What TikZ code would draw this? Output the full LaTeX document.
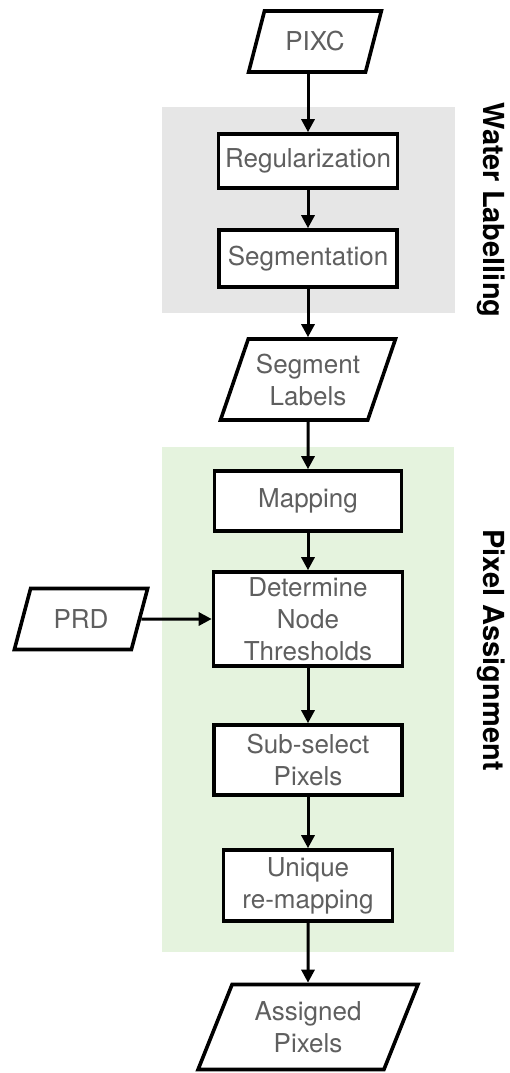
\documentclass[tikz,border=0pt]{standalone}
\usepackage{fontspec}
\setmainfont{TeX Gyre Heros}
\usepackage{tikz}
\usetikzlibrary{shapes.geometric,arrows.meta}
\definecolor{txtgray}{RGB}{95,95,95}
\definecolor{labelbg}{RGB}{230,230,230}
\definecolor{assignbg}{RGB}{229,243,222}

\begin{document}
\begin{tikzpicture}[x=1pt, y=-1pt, line width=3pt, >={Triangle[length=13pt,width=13pt]},
    main/.style = {draw, rectangle, line width=3.6pt, fill=white, text=txtgray, align=center, inner sep=0pt, font=\fontsize{26}{32}\selectfont},
    data/.style = {main, trapezium, trapezium left angle=65, trapezium right angle=115, trapezium stretches=true},
    group/.style = {rotate=-90, font=\bfseries\fontsize{29}{32}\selectfont}]

        \useasboundingbox (0,0) rectangle (509,1073);

        % shaded stages
        \fill[labelbg] (162,107) rectangle (455,313);
        \fill[assignbg] (162,447) rectangle (454,952);

        \node[data, minimum width=133pt, minimum height=61pt] (1) at (315,41.5) {PIXC};
        \node[main, minimum width=179pt, minimum height=54pt] (2) at (308,161) {Regularization};
        \node[main, minimum width=178pt, minimum height=57pt] (3) at (308,258.5) {Segmentation};
        \node[data, minimum width=175pt, minimum height=81pt] (4) at (308,379.5) {Segment\\Labels};
        \node[main, minimum width=187pt, minimum height=60pt] (5) at (308,501) {Mapping};
        \node[main, minimum width=189pt, minimum height=94pt] (6) at (308,619) {Determine\\Node\\Thresholds};
        \node[data, minimum width=134pt, minimum height=61pt] (7) at (81,619) {PRD};
        \node[main, minimum width=188pt, minimum height=70pt] (8) at (308,760) {Sub-select\\Pixels};
        \node[main, minimum width=169pt, minimum height=71pt] (9) at (308,885.5) {Unique\\re-mapping};
        \node[data, minimum width=220pt, minimum height=85pt] (10) at (308,1027) {Assigned\\Pixels};

        \node[group] (11) at (491,210) {Water Labelling};
        \node[group] (12) at (491,650) {Pixel Assignment};

        \draw[->] (1.south -| 2) -- (2);
        \draw[->] (2) -- (3);
        \draw[->] (3) -- (4);
        \draw[->] (4) -- (5);
        \draw[->] (5) -- (6);
        \draw[->] (7) -- (6);
        \draw[->] (6) -- (8);
        \draw[->] (8) -- (9);
        \draw[->] (9) -- (10);

    \end{tikzpicture}
\end{document}
